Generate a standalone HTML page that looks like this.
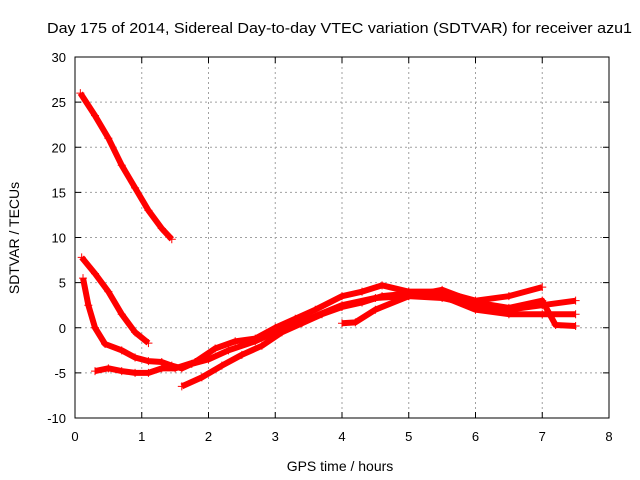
<!DOCTYPE html>
<html><head><meta charset="utf-8"><style>
body{margin:0;background:#fff;}
svg{display:block;font-family:"Liberation Sans",sans-serif;}
</style></head><body>
<svg id="chart" width="640" height="480">
<text x="47" y="33" font-size="15" textLength="585" lengthAdjust="spacingAndGlyphs">Day 175 of 2014, Sidereal Day-to-day VTEC variation (SDTVAR) for receiver azu1</text>
<text x="340" y="471" font-size="14" text-anchor="middle">GPS time / hours</text>
<text transform="translate(19,238) rotate(-90)" font-size="14" text-anchor="middle">SDTVAR / TECUs</text>
<g id="grid"></g><g id="ticks"></g><g id="series"></g>
<rect x="75" y="57" width="534" height="361" fill="none" stroke="#000" stroke-width="1"/>
</svg>
<script>
const xTicks=[0,1,2,3,4,5,6,7,8];
const yTicks=[-10,-5,0,5,10,15,20,25,30];
const sAx=[0.08,0.3,0.5,0.7,0.9,1.1,1.3,1.45];
const sAy=[26,23.5,21,18,15.5,13,11,9.8];
const sBx=[0.1,0.3,0.5,0.7,0.9,1.1];
const sBy=[7.8,6,4,1.5,-0.5,-1.7];
const sCx=[0.12,0.2,0.3,0.45,0.7,0.9,1.1,1.3,1.45,1.6,1.75,2,2.3,2.7,3,3.5,4,4.5,5,5.5,6,6.5,7,7.5];
const sCy=[5.5,2.5,0,-1.8,-2.5,-3.3,-3.7,-3.8,-4.2,-4.5,-4,-3.5,-2.5,-1.5,-0.5,1,2.5,3.3,3.5,3.3,2.5,2,2.5,3];
const sDx=[0.3,0.5,0.7,0.9,1.1,1.3,1.5,1.8,2.1,2.4,2.7,3,3.3,3.6,4,4.3,4.6,5,5.5,6,6.5,7];
const sDy=[-4.8,-4.5,-4.8,-5,-5,-4.5,-4.5,-3.8,-2.3,-1.5,-1.2,0,1,2,3.5,4,4.7,4,4,3,3.5,4.5];
const sEx=[1.6,1.9,2.2,2.5,2.8,3.1,3.4,3.7,4,4.3,4.6,5,5.5,6,6.5,7,7.5];
const sEy=[-6.5,-5.5,-4.2,-3,-2,-0.5,0.5,1.5,2.3,2.8,3.5,3.8,3.5,2,1.5,1.5,1.5];
const sFx=[4,4.2,4.5,5,5.5,6,6.5,7,7.2,7.5];
const sFy=[0.5,0.6,2,3.5,4.2,2.8,2.2,3,0.3,0.2];
const NS='http://www.w3.org/2000/svg';
const X=v=>75+v*534/8, Y=v=>418-(v+10)*361/40;
const grid=document.getElementById('grid'),ticks=document.getElementById('ticks'),ser=document.getElementById('series');
function mk(t,a,p){const e=document.createElementNS(NS,t);for(const k in a)e.setAttribute(k,a[k]);p.appendChild(e);return e;}
xTicks.forEach(v=>{
 if(v>0&&v<8){const g=mk('line',{x1:X(v),x2:X(v),y1:57,y2:418,stroke:'#a0a0a0','stroke-dasharray':'2,3'},grid);
 
 }
 mk('line',{x1:X(v),x2:X(v),y1:418,y2:412,stroke:'#000'},ticks);
 mk('line',{x1:X(v),x2:X(v),y1:57,y2:63,stroke:'#000'},ticks);
 const t=mk('text',{x:X(v),y:441,'font-size':13,'text-anchor':'middle'},ticks);t.textContent=v;
 
 
});
yTicks.forEach(v=>{
 if(v>-10&&v<30){const g=mk('line',{x1:75,x2:609,y1:Y(v),y2:Y(v),stroke:'#a0a0a0','stroke-dasharray':'2,3'},grid);
 
 }
 mk('line',{x1:75,x2:81,y1:Y(v),y2:Y(v),stroke:'#000'},ticks);
 mk('line',{x1:609,x2:603,y1:Y(v),y2:Y(v),stroke:'#000'},ticks);
 const t=mk('text',{x:66,y:Y(v)+5,'font-size':13,'text-anchor':'end'},ticks);t.textContent=v;
 
 
});
[[sAx,sAy],[sBx,sBy],[sCx,sCy],[sDx,sDy],[sEx,sEy],[sFx,sFy]].forEach((s,i)=>{
 const pts=s[0].map((x,j)=>X(x)+','+Y(s[1][j])).join(' ');
 const pl=mk('polyline',{points:pts,fill:'none',stroke:'#ff0000','stroke-width':6,'stroke-linejoin':'round'},ser);
 
 
 s[0].forEach((x,j)=>{
  const m=mk('path',{d:`M${X(x)-4},${Y(s[1][j])}h8M${X(x)},${Y(s[1][j])-4}v8`,stroke:'#ff0000','stroke-width':1},ser);
  
  
 });
});
</script>
</body></html>
